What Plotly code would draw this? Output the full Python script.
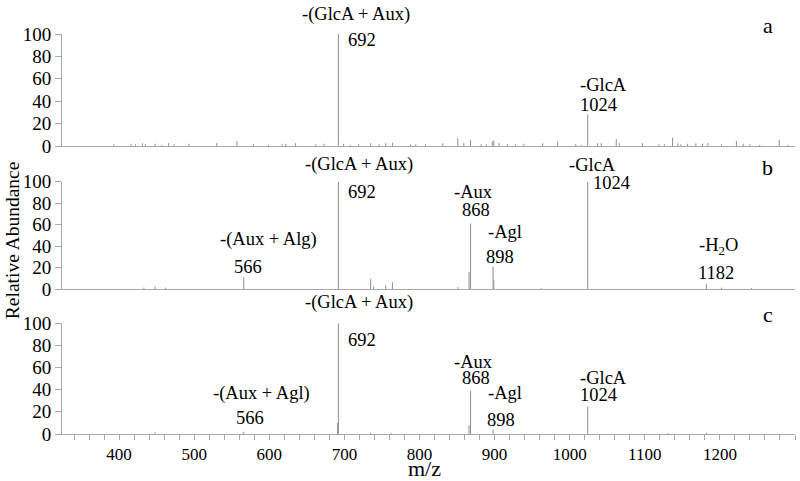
import plotly.graph_objects as go

# m/z and relative abundance
mz_a = [393, 416, 422, 431, 435, 448, 457, 466, 473, 493, 530, 557, 579, 599, 617, 622, 635,
        662, 673, 692, 699, 708, 719, 735, 746, 755, 764, 788, 795, 808, 831, 851, 859, 868,
        882, 889, 897, 899, 906, 917, 928, 939, 964, 984, 1008, 1015, 1024, 1037, 1042, 1062,
        1066, 1097, 1119, 1126, 1137, 1144, 1148, 1157, 1168, 1177, 1184, 1202, 1222, 1231,
        1240, 1253, 1279, 1291]
int_a = [1.5, 2, 1.5, 2.5, 1.5, 2, 1, 2.5, 1.5, 2, 2.5, 4.5, 1.5, 1, 1.5, 2, 2.5,
         1.5, 2, 100, 2, 1, 1.5, 2.5, 1.5, 2.5, 3, 1.5, 1.5, 1.5, 2.5, 7, 2.5, 5.5,
         1.5, 1.5, 4, 5, 2.5, 1.5, 1.5, 2, 2.5, 4, 1.5, 1, 28, 2.5, 2.5, 6,
         2.5, 2.5, 1.5, 1.5, 7.5, 2.5, 1.5, 2, 2.5, 2, 2.5, 1.5, 4.5, 2,
         1.5, 1, 5.5, 1]

mz_b = [433, 448, 462, 566, 692, 735, 739, 755, 764, 851, 866, 868, 898, 899, 962, 1024, 1182, 1202, 1242]
int_b = [1.5, 2.5, 1.5, 11, 100, 9.5, 2.5, 3.5, 6.5, 2, 16, 61, 21, 8, 1, 100, 5, 1.5, 1]

mz_c = [448, 566, 691, 692, 735, 762, 866, 868, 898, 1024, 1130, 1182]
int_c = [1.5, 2, 10, 100, 1, 1, 8, 39, 4, 25, 0.8, 1]

y_ticks = [0, 20, 40, 60, 80, 100]

gray = "#8e8e8e"
axis_gray = "#a8a8a8"
serif = "Liberation Serif"


def sticks(mz, inten):
    xs, ys = [], []
    for m, v in zip(mz, inten):
        xs += [m, m, None]
        ys += [0, v, None]
    return xs, ys


fig = go.Figure()
for i, (mz, inten) in enumerate([(mz_a, int_a), (mz_b, int_b), (mz_c, int_c)]):
    xs, ys = sticks(mz, inten)
    fig.add_trace(go.Scatter(
        x=xs, y=ys, mode="lines",
        line=dict(color=gray, width=1),
        xaxis="x" if i == 0 else f"x{i + 1}",
        yaxis="y" if i == 0 else f"y{i + 1}",
        showlegend=False, hoverinfo="skip"
    ))

domains = [[0.72, 1.0], [0.362, 0.631], [0.0, 0.277]]
xr = [324, 1300]

layout = dict(
    width=800, height=481,
    margin=dict(l=62, r=5, t=34, b=47),
    plot_bgcolor="white", paper_bgcolor="white",
    font=dict(family=serif, color="black"),
)
for i, dom in enumerate(domains):
    sx = "" if i == 0 else str(i + 1)
    last = i == 2
    xa = dict(
        domain=[0, 1], range=xr, anchor="y" + sx, automargin=False,
        showline=True, linecolor=axis_gray, linewidth=1,
        showgrid=False, zeroline=False,
        showticklabels=last, ticks="outside" if last else "",
        tickvals=list(range(400, 1300, 100)) if last else [],
        ticklen=5, tickcolor=axis_gray,
        tickfont=dict(family=serif, size=17, color="black"),
    )
    if last:
        xa["minor"] = dict(dtick=20, tick0=320, ticks="outside", ticklen=5, tickcolor=axis_gray)
    layout["xaxis" + sx] = xa
    layout["yaxis" + sx] = dict(
        domain=dom, range=[0, 100], anchor="x" + sx, automargin=False,
        showline=True, linecolor=axis_gray, linewidth=1,
        showgrid=False, zeroline=False,
        tickvals=y_ticks, ticks="outside", ticklen=6, tickcolor=axis_gray,
        tickfont=dict(family=serif, size=19, color="black"),
    )
fig.update_layout(**layout)

ann_font = dict(family=serif, size=18.5, color="black")
letter_font = dict(family=serif, size=22, color="black")
labels = [
    # panel a
    ("", "-(GlcA + Aux)", 716, 117, "center"),
    ("", "692", 723, 94.6, "center"),
    ("", "a", 1264, 108, "center"),
    ("", "-GlcA", 1011, 54.5, "left"),
    ("", "1024", 1011, 36.6, "left"),
    # panel b
    ("2", "-(GlcA + Aux)", 719, 115.5, "center"),
    ("2", "692", 723, 90.4, "center"),
    ("2", "-(Aux + Alg)", 599, 45.8, "center"),
    ("2", "566", 572, 20.7, "center"),
    ("2", "-Aux", 872, 90.4, "center"),
    ("2", "868", 875, 73.7, "center"),
    ("2", "-Agl", 914, 53.3, "center"),
    ("2", "898", 907, 30, "center"),
    ("2", "-GlcA", 1030, 115.5, "center"),
    ("2", "1024", 1055, 98.8, "center"),
    ("2", "b", 1264, 112.7, "center"),
    ("2", "-H<sub>2</sub>O", 1198, 39.3, "center"),
    ("2", "1182", 1195, 15.1, "center"),
    # panel c
    ("3", "-(GlcA + Aux)", 719, 118.3, "center"),
    ("3", "692", 723, 84.9, "center"),
    ("3", "-(Aux + Agl)", 590, 37, "center"),
    ("3", "566", 574, 14.5, "center"),
    ("3", "-Aux", 872, 65, "center"),
    ("3", "868", 875, 50.6, "center"),
    ("3", "-Agl", 914, 37, "center"),
    ("3", "898", 908, 12.6, "center"),
    ("3", "-GlcA", 1011, 50.6, "left"),
    ("3", "1024", 1011, 35.2, "left"),
    ("3", "c", 1264, 107.5, "center"),
]
for sx, text, x, y, anchor in labels:
    fig.add_annotation(x=x, y=y / 100, xref="x" + sx, yref=f"y{sx} domain", text=text,
                       showarrow=False, xanchor=anchor, yanchor="middle",
                       font=letter_font if text in ("a", "b", "c") else ann_font)

fig.add_annotation(x=0.494, y=-0.085, xref="paper", yref="paper", text="m/z",
                   showarrow=False, xanchor="center", yanchor="middle",
                   font=dict(family=serif, size=22, color="black"))
fig.add_annotation(x=-0.068, y=0.485, xref="paper", yref="paper", text="Relative Abundance",
                   showarrow=False, textangle=-90, xanchor="center", yanchor="middle",
                   font=dict(family=serif, size=19.5, color="black"))

# drop the page's default 8px body margin so the figure sits at the window origin
fig.write_html("out.html", config={"displayModeBar": False},
               post_script="document.body.style.margin = '0';")
